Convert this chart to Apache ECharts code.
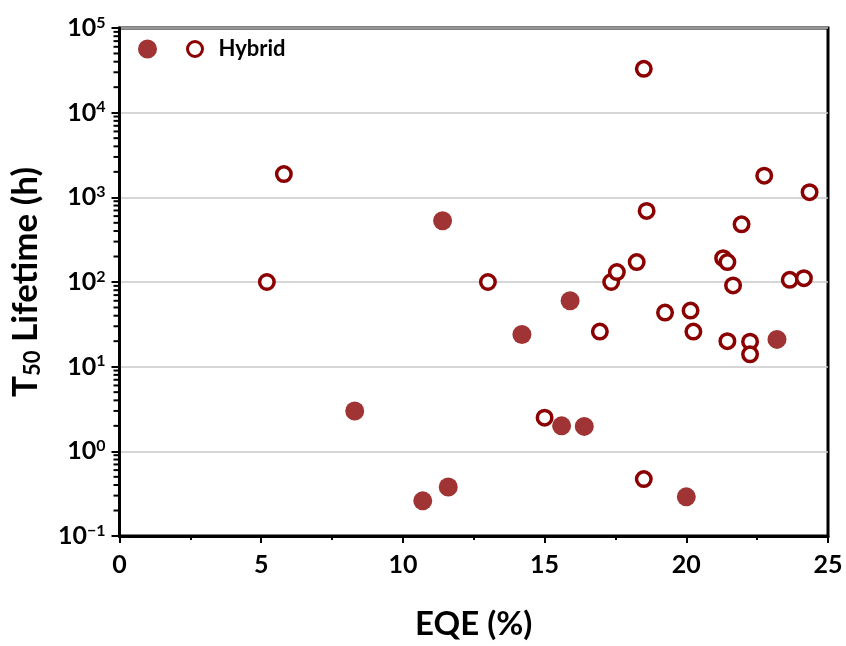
<!DOCTYPE html>
<html>
<head>
<meta charset="utf-8">
<script src="https://cdn.jsdelivr.net/npm/echarts@6/dist/echarts.min.js"></script>
<style>
html,body{margin:0;padding:0;background:#fff;}
#chart{width:846px;height:646px;}
</style>
</head>
<body>
<div id="chart"></div>
<script>
// Non-hybrid (filled) points
var filledX = [11.4, 14.2, 15.9, 23.2, 8.3, 15.6, 16.4, 10.7, 11.6, 20.0];
var filledY = [530, 24, 60, 21, 3.0, 2.0, 1.97, 0.26, 0.38, 0.29];
// Hybrid (hollow) points
var hollowX = [5.2, 5.8, 13.0, 15.0, 16.95, 17.35, 17.55, 18.25, 18.5, 18.6, 18.5, 19.25, 20.15, 20.25, 21.3, 21.45, 21.45, 21.65, 21.95, 22.25, 22.25, 22.75, 23.65, 24.15, 24.35];
var hollowY = [100, 1880, 100, 2.5, 26, 100, 131, 172, 33000, 690, 0.47, 43.5, 46, 26, 191, 172, 20, 91, 480, 19.7, 14, 1800, 106, 111, 1150];
var xTicks = [0, 5, 10, 15, 20, 25];
var yDecades = [-1, 0, 1, 2, 3, 4, 5];
var seriesNames = ['Non-hybrid', 'Hybrid'];
var xTitle = 'EQE (%)';
var yTitle = '{t|T}{sub|50}{t| Lifetime (h)}';

var FONT = 'Lato';
var filledColor = '#a03434';
var hollowColor = '#8b0000';

function pairs(xs, ys) { return xs.map(function (x, i) { return [x, ys[i]]; }); }

// log minor tick values k*10^n (axis decoration only)
var minorVals = [];
for (var d = yDecades[0]; d < yDecades[yDecades.length - 1]; d++) {
  for (var k = 2; k <= 9; k++) minorVals.push([0, k * Math.pow(10, d)]);
}

var chart = echarts.init(document.getElementById('chart'), null, {renderer: 'canvas'});
chart.setOption({
  backgroundColor: '#fff',
  animation: false,
  grid: {left: 118, right: 18, top: 28, bottom: 108, show: true, borderWidth: 3, borderColor: '#000', backgroundColor: 'transparent'},
  legend: {
    left: 138, top: 38, padding: 0, itemGap: 29, itemWidth: 15, itemHeight: 15,
    formatter: function (n) { return n === 'Hybrid' ? 'Hybrid' : ''; },
    textStyle: {fontFamily: FONT, fontWeight: 'bold', fontSize: 22, color: '#000', padding: [0, 0, 0, 11]},
    data: [
      {name: seriesNames[0], icon: 'circle', itemStyle: {color: filledColor, borderColor: filledColor, borderWidth: 4}},
      {name: seriesNames[1], icon: 'circle', itemStyle: {color: '#fff', borderColor: hollowColor, borderWidth: 3}}
    ]
  },
  xAxis: {
    type: 'value', min: 0, max: 25, interval: 5,
    name: xTitle, nameLocation: 'middle', nameGap: 72,
    nameTextStyle: {fontFamily: FONT, fontWeight: 'bold', fontSize: 33, color: '#000'},
    axisLine: {show: true, onZero: false, lineStyle: {color: '#000', width: 3}},
    axisTick: {show: true, inside: false, length: 7, lineStyle: {color: '#000', width: 2}},
    minorTick: {show: true, splitNumber: 2, length: 4, lineStyle: {color: '#000', width: 2}},
    splitLine: {show: false},
    axisLabel: {margin: 16, fontFamily: FONT, fontWeight: 'bold', fontSize: 25, color: '#000',
      formatter: function (v) { return xTicks.indexOf(v) >= 0 ? String(v) : ''; }}
  },
  yAxis: {
    type: 'log', logBase: 10, min: 0.1, max: 100000, splitNumber: 6,
    name: yTitle, nameLocation: 'middle', nameGap: 76,
    nameTextStyle: {fontFamily: FONT, fontWeight: 'bold', fontSize: 35, color: '#000',
      rich: {
        t: {fontFamily: FONT, fontWeight: 'bold', fontSize: 35, color: '#000'},
        sub: {fontFamily: FONT, fontWeight: 'bold', fontSize: 22, color: '#000', verticalAlign: 'bottom', padding: [14, 0, 0, 0]}
      }},
    axisLine: {show: true, onZero: false, lineStyle: {color: '#000', width: 3}},
    axisTick: {show: true, inside: false, length: 8, lineStyle: {color: '#000', width: 2}},
    splitLine: {show: true, lineStyle: {color: '#c8c8c8', width: 1.5}},
    axisLabel: {margin: 14, color: '#000',
      formatter: function (v) {
        var e = Math.round(Math.log10(v));
        return '{b|10}{s|' + (e < 0 ? '\u2212' + (-e) : e) + '}';
      },
      rich: {
        b: {fontFamily: FONT, fontWeight: 'bold', fontSize: 25, color: '#000', lineHeight: 27},
        s: {fontFamily: FONT, fontWeight: 'bold', fontSize: 16, color: '#000', verticalAlign: 'top', lineHeight: 27, padding: [0, 0, 10, 0]}
      }}
  },
  series: [{
    name: seriesNames[0], type: 'scatter', symbol: 'circle', symbolSize: 19,
    itemStyle: {color: filledColor, opacity: 1},
    data: pairs(filledX, filledY)
  }, {
    name: seriesNames[1], type: 'scatter', symbol: 'circle', symbolSize: 14.5,
    itemStyle: {color: '#fff', borderColor: hollowColor, borderWidth: 3.5, opacity: 1},
    data: pairs(hollowX, hollowY)
  }, {
    name: 'minorTicks', type: 'custom', silent: true, clip: false, z: 5,
    tooltip: {show: false},
    renderItem: function (params, api) {
      var p = api.coord([api.value(0), api.value(1)]);
      return {type: 'line', shape: {x1: p[0] - 6, y1: p[1], x2: p[0], y2: p[1]},
        style: {stroke: '#000', lineWidth: 2}};
    },
    data: minorVals
  }]
});
</script>
</body>
</html>
